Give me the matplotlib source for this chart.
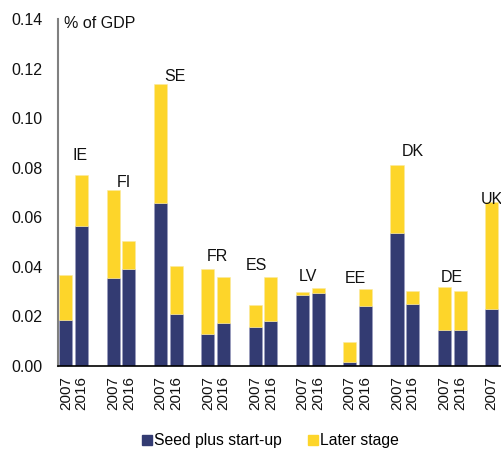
import matplotlib
matplotlib.use("Agg")
import matplotlib.pyplot as plt
from matplotlib.lines import Line2D
import numpy as np

plt.rcParams['font.family'] = ['Liberation Sans', 'DejaVu Sans']

countries = ["IE", "FI", "SE", "FR", "ES", "LV", "EE", "DK", "DE", "UK"]
years = ["2007", "2016"]
# seed plus start-up per country: [2007, 2016]
seed = [[0.0185, 0.0565], [0.0354, 0.0390], [0.0659, 0.0211], [0.0129, 0.0175],
        [0.0159, 0.0181], [0.0285, 0.0296], [0.0016, 0.0242], [0.0538, 0.0251],
        [0.0144, 0.0145], [0.0230, 0.0223]]
# total height (seed + later stage) per country: [2007, 2016]
total = [[0.0367, 0.0770], [0.0712, 0.0504], [0.1138, 0.0403], [0.0390, 0.0360],
         [0.0247, 0.0360], [0.0300, 0.0315], [0.0098, 0.0310], [0.0810, 0.0304],
         [0.0319, 0.0302], [0.0663, 0.0289]]
series_names = ["Seed plus start-up", "Later stage"]

# layout: country label positions (x in slot units, y in data units)
label_pos = [(0.92, 0.085), (3.65, 0.0742), (6.94, 0.117), (9.6, 0.0443),
             (12.1, 0.0407), (15.38, 0.0363), (18.36, 0.0355), (22.03, 0.0865),
             (24.5, 0.0357), (27.05, 0.0670)]

navy = "#333B72"
yellow = "#FDD52A"

fig = plt.figure(figsize=(5.02, 4.51), dpi=100)
ax = fig.add_axes([58/502, 85/451, 473/502, 347/451])

seed_a = np.array(seed)
total_a = np.array(total)
later_a = total_a - seed_a

xs, seeds, laters, ylabels = [], [], [], []
for i in range(len(countries)):
    for j in range(2):
        xs.append(3*i + j)
        seeds.append(seed_a[i, j])
        laters.append(later_a[i, j])
        ylabels.append(years[j])

w = 0.83
ax.bar(xs, seeds, width=w, color=navy, edgecolor="#9a9cc0", linewidth=0.4)
ax.bar(xs, laters, bottom=seeds, width=w, color=yellow, edgecolor="#fbeaa0", linewidth=0.4)

for c, (lx, ly) in zip(countries, label_pos):
    ax.text(lx, ly, c, ha="center", va="center", fontsize=11.5, color="#111111")

ax.set_xlim(-0.5, 29.5)
ax.set_ylim(0, 0.14)
ax.set_yticks(np.arange(0, 0.141, 0.02))
ax.set_yticklabels([f"{v:.2f}" for v in np.arange(0, 0.141, 0.02)])
ax.set_xticks(xs)
ax.set_xticklabels(ylabels, rotation=90, va="top")
ax.tick_params(axis="both", length=0, colors="#111111")
ax.tick_params(axis="y", pad=11, labelsize=11.5)
ax.tick_params(axis="x", pad=7, labelsize=11)

for s in ["top", "right"]:
    ax.spines[s].set_visible(False)
ax.spines["left"].set_color("#808080")
ax.spines["left"].set_linewidth(1.5)
ax.spines["bottom"].set_color("#000000")
ax.spines["bottom"].set_linewidth(1.2)

fig.text(64/502, 1 - 24/451, "% of GDP", ha="left", va="center", fontsize=11.5, color="#111111")

handles = [Line2D([], [], marker="s", linestyle="none", markersize=7.5, color=navy),
           Line2D([], [], marker="s", linestyle="none", markersize=7.5, color=yellow)]
fig.legend(handles, series_names, loc="center", bbox_to_anchor=(270/502, 10/451),
           ncol=2, frameon=False, fontsize=11.3, handletextpad=0.05, columnspacing=1.6,
           handlelength=0.8)

fig.savefig("out.png", dpi=100)
